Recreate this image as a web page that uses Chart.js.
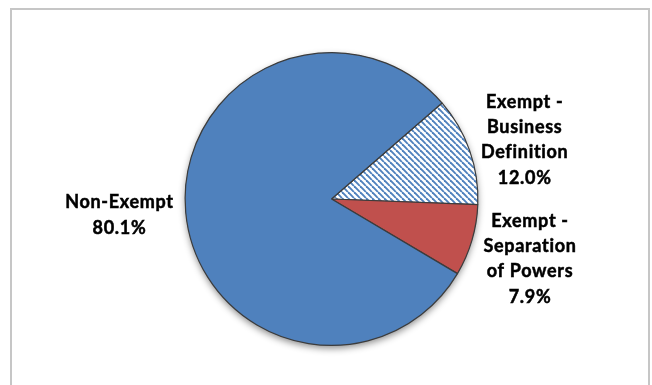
<!DOCTYPE html>
<html>
<head>
<meta charset="utf-8">
<script src="https://cdn.jsdelivr.net/npm/chart.js@4"></script>
<style>
    html, body { margin: 0; padding: 0; background: #fff; }
    #wrap { position: relative; width: 652px; height: 385px; overflow: hidden; }
    #frame {
        position: absolute; left: 10px; top: 8px; width: 640px; height: 400px;
        border: 2px solid #c6c6c6; box-sizing: border-box;
    }
    #myChart { position: absolute; left: 0; top: 0; }
</style>
</head>
<body>
<div id="wrap">
    <div id="frame"></div>
    <canvas id="myChart" width="652" height="385"></canvas>
</div>
<script>
const categories = ['Exempt - Business Definition', 'Exempt - Separation of Powers', 'Non-Exempt'];
const shares = [12.0, 7.9, 80.1];
const labelLines = [
    ['Exempt -', 'Business', 'Definition'],
    ['Exempt -', 'Separation', 'of Powers'],
    ['Non-Exempt']
];

// white tile with blue "\" stripes
function stripes() {
    const c = document.createElement('canvas');
    c.width = 6;
    c.height = 6;
    const g = c.getContext('2d');
    g.fillStyle = '#ffffff';
    g.fillRect(0, 0, 6, 6);
    g.strokeStyle = '#4f81bd';
    g.lineWidth = 1.9;
    for (const k of [-6, 0, 6]) {
        g.beginPath();
        g.moveTo(k, 0);
        g.lineTo(k + 6, 6);
        g.stroke();
    }
    return g.createPattern(c, 'repeat');
}

const ctx = document.getElementById('myChart').getContext('2d');

// soft drop shadow under the whole pie
const pieShadow = {
    id: 'pieShadow',
    beforeDatasetsDraw(chart) {
        const arc = chart.getDatasetMeta(0).data[0];
        if (!arc) return;
        const c = chart.ctx;
        c.save();
        c.shadowColor = 'rgba(0,0,0,0.45)';
        c.shadowBlur = 7;
        c.shadowOffsetY = 3;
        c.fillStyle = '#4f81bd';
        c.beginPath();
        c.arc(arc.x, arc.y, arc.outerRadius, 0, Math.PI * 2);
        c.fill();
        c.restore();
    }
};

// category + percent labels outside the slices
const outsideLabels = {
    id: 'outsideLabels',
    afterDatasetsDraw(chart) {
        const c = chart.ctx;
        const meta = chart.getDatasetMeta(0);
        const lineH = 25.3;
        const gap = 12;
        let lastRightBottom = -Infinity;
        c.save();
        c.font = 'bold 18px Lato, "Open Sans", sans-serif';
        c.letterSpacing = '0.7px';
        c.fillStyle = '#000';
        c.strokeStyle = '#000';
        c.lineWidth = 0.5;
        c.textBaseline = 'middle';
        c.textAlign = 'center';
        meta.data.forEach((arc, i) => {
            const mid = (arc.startAngle + arc.endAngle) / 2;
            const r = arc.outerRadius + gap;
            const ax = arc.x + Math.cos(mid) * r;
            const ay = arc.y + Math.sin(mid) * (r + 20);
            const lines = labelLines[i].concat([shares[i].toFixed(1) + '%']);
            const blockW = Math.max(...lines.map(t => c.measureText(t).width));
            const blockH = lines.length * lineH;
            let top = ay - blockH / 2;
            let cx;
            if (Math.cos(mid) >= 0) {
                // keep right-side blocks from running into each other
                if (top < lastRightBottom + 18) top = lastRightBottom + 18;
                lastRightBottom = top + blockH;
                cx = ax + blockW / 2;
            } else {
                cx = ax - blockW / 2;
            }
            lines.forEach((t, j) => {
                const y = top + lineH * (j + 0.5);
                c.fillText(t, cx, y);
                c.strokeText(t, cx, y);
            });
        });
        c.restore();
    }
};

new Chart(ctx, {
    type: 'pie',
    data: {
        labels: categories,
        datasets: [{
            data: shares,
            backgroundColor: [stripes(), '#c0504d', '#4f81bd'],
            borderColor: '#3c3c3c',
            borderWidth: 1.2
        }]
    },
    options: {
        responsive: false,
        animation: false,
        rotation: 49,
        layout: {
            padding: { top: 52, bottom: 39, left: 11, right: 0 }
        },
        plugins: {
            legend: { display: false },
            tooltip: { enabled: false }
        }
    },
    plugins: [pieShadow, outsideLabels]
});
</script>
</body>
</html>
